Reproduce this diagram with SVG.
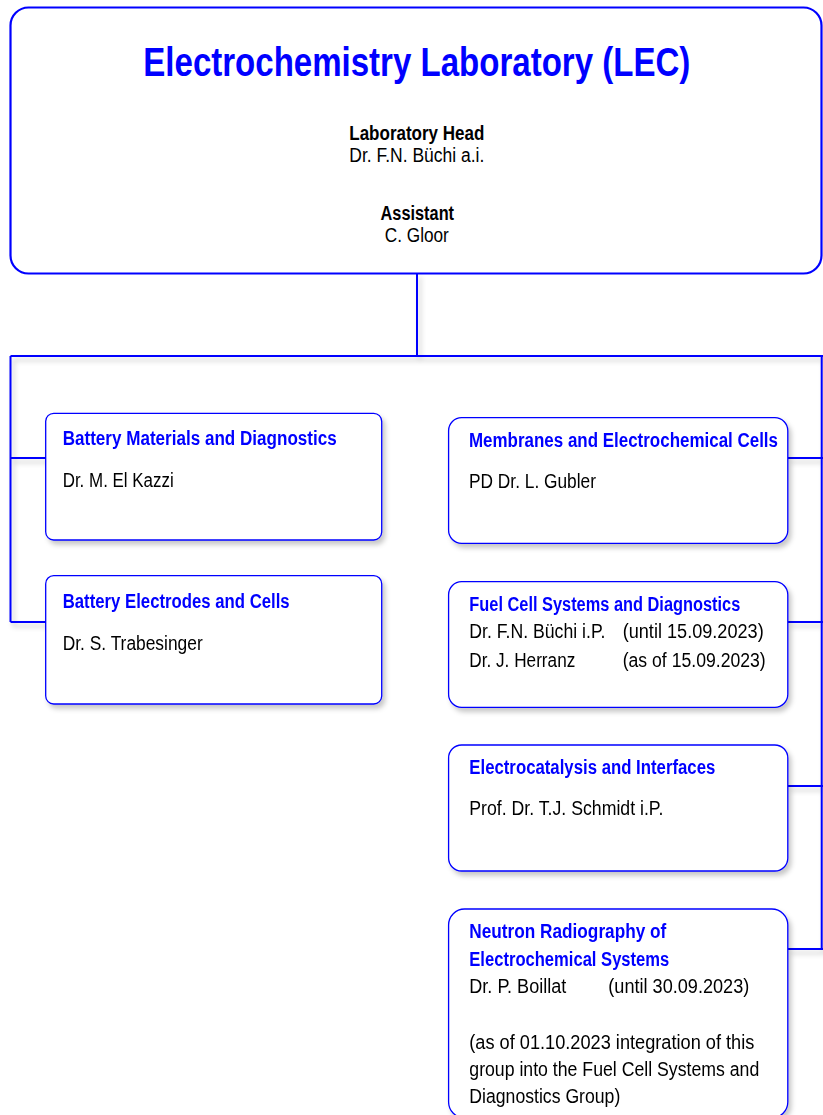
<svg xmlns="http://www.w3.org/2000/svg" width="823" height="1115" viewBox="0 0 823 1115">
<defs>
<filter id="sh" x="-10%" y="-10%" width="130%" height="130%">
<feDropShadow dx="3" dy="4" stdDeviation="2.5" flood-color="#000" flood-opacity="0.22"/>
</filter>
<style>
.box{fill:#fff;stroke:#0000ff;stroke-width:1.3}
.top{fill:#fff;stroke:#0000ff;stroke-width:2.2}
.ln{stroke:#0000ff;stroke-width:2;fill:none}
text{font-family:"Liberation Sans",Arial,sans-serif;font-size:19.5px;fill:#000}
.t{font-weight:bold;fill:#0000ff}
.b{font-weight:bold}
.c{text-anchor:middle}
.title{font-size:40px;font-weight:bold;fill:#0000ff;text-anchor:middle}
</style>
</defs>
<rect width="823" height="1115" fill="#fff"/>
<g id="connectors" filter="url(#sh)">
<path class="ln" d="M417,273 V356" stroke-width="1.6"/>
<path class="ln" d="M10.5,356 H823"/>
<path class="ln" d="M10.5,356 V622 M10.5,458 H46 M10.5,622 H46"/>
<path class="ln" d="M821.7,356 V949 M788,458 H823 M788,622 H823 M788,786 H823 M788,949 H823"/>
</g>
<g id="lab">
<rect class="top" x="10.5" y="7.5" width="811" height="266" rx="18" ry="18"/>
<text class="title" x="416.8" y="76" textLength="547" lengthAdjust="spacingAndGlyphs">Electrochemistry Laboratory (LEC)</text>
<text class="b c" x="416.8" y="139.5" textLength="135" lengthAdjust="spacingAndGlyphs">Laboratory Head</text>
<text class="c" x="416.8" y="161.5" textLength="135" lengthAdjust="spacingAndGlyphs">Dr. F.N. Büchi a.i.</text>
<text class="b c" x="417.3" y="220" textLength="73.5" lengthAdjust="spacingAndGlyphs">Assistant</text>
<text class="c" x="416.8" y="242" textLength="64" lengthAdjust="spacingAndGlyphs">C. Gloor</text>
</g>
<g id="battery-materials" filter="url(#sh)">
<rect class="box" x="45.7" y="413.3" width="336" height="126.7" rx="8"/>
<text class="t" x="62.7" y="445" textLength="274" lengthAdjust="spacingAndGlyphs">Battery Materials and Diagnostics</text>
<text x="62.7" y="486.7" textLength="111" lengthAdjust="spacingAndGlyphs">Dr. M. El Kazzi</text>
</g>
<g id="battery-electrodes" filter="url(#sh)">
<rect class="box" x="45.7" y="575.7" width="336" height="128.3" rx="8"/>
<text class="t" x="62.7" y="608.3" textLength="227" lengthAdjust="spacingAndGlyphs">Battery Electrodes and Cells</text>
<text x="62.7" y="650" textLength="140" lengthAdjust="spacingAndGlyphs">Dr. S. Trabesinger</text>
</g>
<g id="membranes" filter="url(#sh)">
<rect class="box" x="448.6" y="417.7" width="339.2" height="125.6" rx="13"/>
<text class="t" x="469" y="446.7" textLength="309" lengthAdjust="spacingAndGlyphs">Membranes and Electrochemical Cells</text>
<text x="469" y="488.3" textLength="127" lengthAdjust="spacingAndGlyphs">PD Dr. L. Gubler</text>
</g>
<g id="fuel-cell" filter="url(#sh)">
<rect class="box" x="448.6" y="581.7" width="339.2" height="125.6" rx="13"/>
<text class="t" x="469.3" y="610.7" textLength="271" lengthAdjust="spacingAndGlyphs">Fuel Cell Systems and Diagnostics</text>
<text x="469.3" y="638.3" textLength="136" lengthAdjust="spacingAndGlyphs">Dr. F.N. Büchi i.P.</text>
<text x="622.7" y="638.3" textLength="141" lengthAdjust="spacingAndGlyphs">(until 15.09.2023)</text>
<text x="469.3" y="666.7" textLength="106" lengthAdjust="spacingAndGlyphs">Dr. J. Herranz</text>
<text x="622.7" y="666.7" textLength="143" lengthAdjust="spacingAndGlyphs">(as of 15.09.2023)</text>
</g>
<g id="electrocatalysis" filter="url(#sh)">
<rect class="box" x="448.6" y="745" width="339.2" height="126" rx="13"/>
<text class="t" x="469.3" y="774" textLength="246" lengthAdjust="spacingAndGlyphs">Electrocatalysis and Interfaces</text>
<text x="469.3" y="815" textLength="194" lengthAdjust="spacingAndGlyphs">Prof. Dr. T.J. Schmidt i.P.</text>
</g>
<g id="neutron" filter="url(#sh)">
<rect class="box" x="448.6" y="909" width="339.2" height="209" rx="16"/>
<text class="t" x="469.3" y="938.3" textLength="197" lengthAdjust="spacingAndGlyphs">Neutron Radiography of</text>
<text class="t" x="469.3" y="965.7" textLength="200" lengthAdjust="spacingAndGlyphs">Electrochemical Systems</text>
<text x="469.3" y="993.3" textLength="97" lengthAdjust="spacingAndGlyphs">Dr. P. Boillat</text>
<text x="608.3" y="993.3" textLength="141" lengthAdjust="spacingAndGlyphs">(until 30.09.2023)</text>
<text x="469.3" y="1049.3" textLength="285" lengthAdjust="spacingAndGlyphs">(as of 01.10.2023 integration of this</text>
<text x="469.3" y="1076" textLength="290" lengthAdjust="spacingAndGlyphs">group into the Fuel Cell Systems and</text>
<text x="469.3" y="1103.3" textLength="151" lengthAdjust="spacingAndGlyphs">Diagnostics Group)</text>
</g>
</svg>
